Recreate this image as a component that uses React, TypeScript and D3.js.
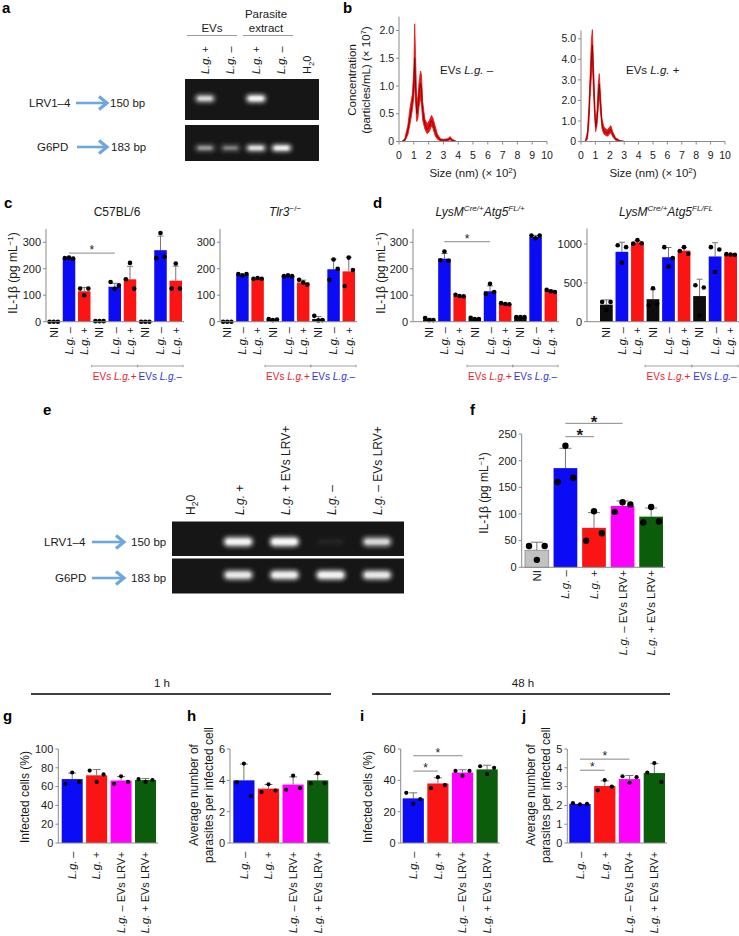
import React from "react";
import * as d3 from "d3";

const FONT = "'Liberation Sans', Arial, Helvetica, sans-serif";
const BLUE = "#0b0bf5";
const RED = "#fb1414";
const MAGENTA = "#ff00ff";
const GREEN = "#0b5c0b";
const GRAY = "#c2c2c2";
const BLACK = "#0d0d0d";
const AXIS = "#8a8a8a";
const TXT = "#1a1a1a";

// ---------------- Panel a (gel) ----------------
const A_LANES = ["L.g. +", "L.g. –", "L.g. +", "L.g. –", "H2O"];
const A_LRV_BANDS = [0.75, 0, 1, 0, 0];
const A_G6PD_BANDS = [0.45, 0.35, 0.85, 1, 0];

// ---------------- Panel b (NTA) ----------------
const B_X_TICKS = [0, 1, 2, 3, 4, 5, 6, 7, 8, 9, 10];
const B1_Y_TICKS = [0, 0.5, 1, 1.5, 2];
const B2_Y_TICKS = [0, 1, 2, 3, 4, 5];
const B1_SIZE = [0.2, 0.4, 0.6, 0.75, 0.9, 1.0, 1.06, 1.12, 1.2, 1.28, 1.35, 1.45, 1.52, 1.6, 1.75, 1.9, 2.05, 2.2, 2.3, 2.45, 2.6, 2.8, 3.0, 3.3, 3.45, 3.6, 3.9];
const B1_MEAN = [0, 0.03, 0.2, 0.45, 0.7, 1.0, 1.5, 1.0, 0.5, 0.6, 0.85, 1.05, 0.95, 0.55, 0.3, 0.22, 0.28, 0.38, 0.32, 0.18, 0.08, 0.03, 0.02, 0.03, 0.06, 0.02, 0];
const B1_UPPER = [0, 0.06, 0.3, 0.62, 0.85, 1.32, 2.12, 1.55, 0.68, 0.82, 1.05, 1.27, 1.2, 0.72, 0.4, 0.32, 0.38, 0.47, 0.42, 0.27, 0.13, 0.05, 0.04, 0.05, 0.09, 0.04, 0];
const B1_LOWER = [0, 0.01, 0.12, 0.32, 0.56, 0.8, 1.05, 0.7, 0.36, 0.42, 0.62, 0.78, 0.66, 0.38, 0.22, 0.14, 0.18, 0.28, 0.23, 0.1, 0.04, 0.01, 0, 0.01, 0.03, 0, 0];
const B2_SIZE = [0.3, 0.45, 0.55, 0.65, 0.72, 0.79, 0.86, 0.95, 1.02, 1.12, 1.2, 1.27, 1.35, 1.45, 1.57, 1.7, 1.85, 2.0, 2.08, 2.2, 2.4, 2.7, 3.05];
const B2_MEAN = [0, 0.3, 1.3, 3.0, 4.0, 4.7, 3.3, 1.6, 0.7, 1.2, 2.2, 2.8, 1.9, 0.9, 0.55, 0.45, 0.4, 0.55, 0.6, 0.35, 0.12, 0.03, 0];
const B2_UPPER = [0, 0.5, 1.75, 3.55, 4.95, 5.45, 3.95, 2.05, 0.92, 1.55, 2.85, 3.3, 2.35, 1.15, 0.75, 0.62, 0.57, 0.72, 0.77, 0.47, 0.19, 0.05, 0];
const B2_LOWER = [0, 0.12, 0.85, 2.4, 3.1, 3.8, 2.5, 1.15, 0.48, 0.85, 1.6, 2.25, 1.45, 0.66, 0.38, 0.3, 0.26, 0.38, 0.43, 0.23, 0.06, 0.01, 0];

// ---------------- Panels c, d ----------------
const CD_CATEGORIES = ["NI", "L.g. –", "L.g. +", "NI", "L.g. –", "L.g. +", "NI", "L.g. –", "L.g. +"];
const CD_COLORS = [BLACK, BLUE, RED, BLACK, BLUE, RED, BLACK, BLUE, RED];
const EV_GROUPS = ["EVs L.g.+", "EVs L.g.–"];
const CD_Y_TICKS = [0, 100, 200, 300];
const D2_Y_TICKS = [0, 500, 1000];

const C57_MEANS = [0, 240, 115, 2, 132, 160, 0, 270, 155];
const C57_DOTS = [[0, 0, 0], [240, 242, 238], [125, 100, 125], [2, 2, 2], [150, 124, 137], [160, 222, 125], [0, 0, 0], [240, 335, 245], [125, 220, 125]];
const TLR3_MEANS = [0, 178, 162, 8, 172, 148, 10, 198, 190];
const TLR3_DOTS = [[0, 0, 0], [180, 175, 180], [162, 165, 162], [10, 6, 8], [172, 175, 172], [158, 148, 140], [22, 5, 6], [158, 235, 200], [135, 242, 195]];
const ATG_FLP_MEANS = [8, 238, 97, 12, 115, 67, 18, 320, 115];
const ATG_FLP_DOTS = [[14, 6, 6], [232, 265, 230], [102, 97, 96], [15, 10, 10], [105, 143, 112], [70, 67, 66], [18, 18, 18], [325, 315, 325], [120, 115, 112]];
const ATG_FLFL_MEANS = [220, 900, 1020, 290, 830, 915, 330, 840, 865];
const ATG_FLFL_DOTS = [[255, 150, 255], [985, 760, 960], [1005, 1050, 1010], [210, 430, 230], [960, 710, 820], [910, 960, 875], [470, 80, 440], [960, 640, 930], [870, 865, 862]];

// ---------------- Panel e (gel) ----------------
const E_LANES = ["H2O", "L.g. +", "L.g. + EVs LRV+", "L.g. –", "L.g. – EVs LRV+"];
const E_LRV_BANDS = [0, 0.95, 1, 0.03, 0.72];
const E_G6PD_BANDS = [0, 0.85, 0.9, 0.95, 0.85];

// ---------------- Panel f ----------------
const F_CATEGORIES = ["NI", "L.g. –", "L.g. +", "L.g. – EVs LRV+", "L.g. + EVs LRV+"];
const F_COLORS = [GRAY, BLUE, RED, MAGENTA, GREEN];
const F_MEANS = [32, 186, 74, 115, 95];
const F_DOTS = [[40, 14, 40], [160, 228, 168], [50, 105, 64], [104, 122, 118], [84, 113, 86]];
const F_Y_TICKS = [0, 50, 100, 150, 200, 250];

// ---------------- Panels g-j ----------------
const GJ_CATEGORIES = ["L.g. –", "L.g. +", "L.g. – EVs LRV+", "L.g. + EVs LRV+"];
const GJ_COLORS = [BLUE, RED, MAGENTA, GREEN];
const G_MEANS = [68, 72, 66.5, 67];
const G_DOTS = [[63, 75, 65], [77, 65, 73], [63, 71, 65], [68, 65, 67]];
const G_Y_TICKS = [0, 20, 40, 60, 80, 100];
const H_MEANS = [4.0, 3.47, 3.73, 4.0];
const H_DOTS = [[3.87, 5.07, 3.0], [3.25, 3.75, 3.35], [3.4, 4.3, 3.5], [3.8, 4.45, 3.8]];
const H_Y_TICKS = [0, 2, 4, 6];
const I_MEANS = [28.5, 38, 45, 47];
const I_DOTS = [[32, 25, 28], [35, 42, 37], [46, 43, 46], [49, 44, 48]];
const I_Y_TICKS = [0, 20, 40, 60];
const J_MEANS = [2.08, 3.03, 3.4, 3.72];
const J_DOTS = [[2.12, 2.05, 2.08], [2.8, 3.35, 3.0], [3.55, 3.2, 3.5], [3.75, 4.25, 3.25]];
const J_Y_TICKS = [0, 1, 2, 3, 4, 5];
const TIME_LABELS = ["1 h", "48 h"];

// ------------------------------------------------
function Rich({ s }: { s: string }) {
  if (s === "H2O") {
    return (
      <>
        <tspan>H</tspan>
        <tspan dy={3} fontSize="0.72em">2</tspan>
        <tspan dy={-3}>0</tspan>
      </>
    );
  }
  const parts = s.split(/(L\.g\.)/).filter((p) => p !== "");
  return (
    <>
      {parts.map((p, i) =>
        p === "L.g." ? (
          <tspan key={i} fontStyle="italic">{p}</tspan>
        ) : (
          <tspan key={i}>{p}</tspan>
        )
      )}
    </>
  );
}

function Arrow({ x1, x2, y }: { x1: number; x2: number; y: number }) {
  return (
    <g stroke="#6ea7de" fill="none">
      <line x1={x1} x2={x2 - 3} y1={y} y2={y} strokeWidth={2.6} />
      <polyline points={`${x2 - 9},${y - 6.5} ${x2 - 1},${y} ${x2 - 9},${y + 6.5}`} strokeWidth={3.2} />
    </g>
  );
}

function Gel({ x, y, w, h, lanes, vals, bandW, bandH, bandDy }: any) {
  return (
    <g>
      <rect x={x} y={y} width={w} height={h} fill="#161616" />
      {vals.map((v: number, i: number) =>
        v > 0.01 ? (
          <g key={i}>
            <rect x={lanes[i] - bandW / 2} y={y + h / 2 + bandDy - bandH / 2} width={bandW} height={bandH} rx={bandH / 2} fill="#fff" opacity={v * 0.8} filter="url(#glow)" />
            <rect x={lanes[i] - bandW / 2 + 3} y={y + h / 2 + bandDy - bandH / 4} width={bandW - 6} height={bandH / 2} rx={bandH / 4} fill="#fff" opacity={v * 0.85} filter="url(#glow1)" />
          </g>
        ) : null
      )}
    </g>
  );
}

type Sig = { a: number; b: number; level: number };
function BarPanel(p: any) {
  const y = d3.scaleLinear().domain([0, p.yMax]).range([p.yBase, p.yTopPx]);
  const x = d3.scaleBand<number>().domain(d3.range(p.means.length)).range(p.band).paddingInner(p.pad).paddingOuter(0);
  const bw = x.bandwidth();
  const cx = (i: number) => (x(i) as number) + bw / 2;
  const jit = [-0.33, 0, 0.33];
  const fmt = p.fmt || ((d: number) => String(d));
  return (
    <g>
      {p.means.map((m: number, i: number) => {
        const sd = d3.deviation(p.dots[i]) ?? 0;
        const top = y(m + sd);
        const hasErr = y(m) - top > 1;
        return (
          <g key={i}>
            {hasErr && (
              <g stroke="#666" strokeWidth={0.9}>
                <line x1={cx(i)} x2={cx(i)} y1={y(m)} y2={top} />
                <line x1={cx(i) - p.capW / 2} x2={cx(i) + p.capW / 2} y1={top} y2={top} />
              </g>
            )}
            <rect x={x(i)} y={y(m)} width={bw} height={Math.max(0, p.yBase - y(m))} fill={p.colors[i]} stroke={p.colors[i] === GRAY ? "#8a8a8a" : "none"} strokeWidth={0.8} />
            {p.dots[i].map((d: number, k: number) => (
              <circle key={k} cx={cx(i) + jit[k] * bw} cy={y(d)} r={p.dotR} fill="#000" />
            ))}
          </g>
        );
      })}
      <line x1={p.x0} x2={p.x0} y1={p.yBase} y2={p.yTopPx} stroke={AXIS} strokeWidth={1} />
      <line x1={p.x0} x2={p.band[1] + 2} y1={p.yBase} y2={p.yBase} stroke={AXIS} strokeWidth={1} />
      {p.ticks.map((t: number) => (
        <g key={t}>
          <line x1={p.x0 - 3} x2={p.x0} y1={y(t)} y2={y(t)} stroke={AXIS} />
          <text x={p.x0 - 5} y={y(t)} dy="0.35em" textAnchor="end" fontSize={p.tickSize} fill={TXT}>{fmt(t)}</text>
        </g>
      ))}
      {p.labels.map((l: string, i: number) => (
        <text key={i} transform={`translate(${cx(i)},${p.labelTop}) rotate(-90)`} dy="0.35em" textAnchor="end" fontSize={p.labelSize} fill={TXT}>
          <Rich s={l} />
        </text>
      ))}
      {(p.sigs || []).map((s: Sig, k: number) => (
        <g key={k}>
          <line x1={cx(s.a)} x2={cx(s.b)} y1={y(s.level)} y2={y(s.level)} stroke="#888" strokeWidth={1} />
          <text x={(cx(s.a) + cx(s.b)) / 2} y={y(s.level) + p.starDy} textAnchor="middle" fontSize={p.starSize} fontWeight={p.starBold ? "bold" : "normal"} fill={TXT}>*</text>
        </g>
      ))}
      {p.bracketY && (() => {
        const l0 = (x(3) as number) - 1.5;
        const mid = ((x(5) as number) + bw + (x(6) as number)) / 2;
        const r0 = (x(8) as number) + bw + 1;
        const by = p.bracketY;
        const segs: [number, number][] = [[l0, mid], [mid, r0]];
        return (
          <g>
            {segs.map((sg, k) => (
              <g key={k}>
                <line x1={sg[0]} x2={sg[1]} y1={by} y2={by} stroke="#999" strokeWidth={0.9} />
                <line x1={sg[0]} x2={sg[0]} y1={by - 1.2} y2={by + 1.2} stroke="#999" />
                <line x1={sg[1]} x2={sg[1]} y1={by - 1.2} y2={by + 1.2} stroke="#999" />
                <text x={(sg[0] + sg[1]) / 2} y={by + 13.5} textAnchor="middle" fontSize={10} fill={k === 0 ? "#e8232b" : "#3434d8"}>
                  <Rich s={EV_GROUPS[k]} />
                </text>
              </g>
            ))}
          </g>
        );
      })()}
    </g>
  );
}

function NtaPanel(p: any) {
  const x = d3.scaleLinear().domain([0, 10]).range([p.x0, p.x1]);
  const y = d3.scaleLinear().domain([0, p.yMax]).range([p.yBase, p.yTopPx]);
  const idx = d3.range(p.size.length);
  const area = d3.area<number>().x((i) => x(p.size[i])).y0((i) => y(p.lower[i])).y1((i) => y(p.upper[i]));
  const line = d3.line<number>().x((i) => x(p.size[i])).y((i) => y(p.mean[i]));
  return (
    <g>
      <path d={area(idx) || ""} fill="#e61414" stroke="#e61414" strokeWidth={0.8} />
      <path d={line(idx) || ""} fill="none" stroke="#7a0000" strokeWidth={0.8} />
      <line x1={p.x0} x2={p.x0} y1={p.yBase} y2={p.yTopPx} stroke={AXIS} />
      <line x1={p.x0} x2={p.x1} y1={p.yBase} y2={p.yBase} stroke={AXIS} />
      {p.yTicks.map((t: number) => (
        <g key={t}>
          <line x1={p.x0 - 3} x2={p.x0} y1={y(t)} y2={y(t)} stroke={AXIS} />
          <text x={p.x0 - 5} y={y(t)} dy="0.35em" textAnchor="end" fontSize={10.5} fill={TXT}>{t === 0 ? "0" : d3.format(".1f")(t)}</text>
        </g>
      ))}
      {B_X_TICKS.map((t) => (
        <g key={t}>
          <line x1={x(t)} x2={x(t)} y1={p.yBase} y2={p.yBase + 3} stroke={AXIS} />
          <text x={x(t)} y={p.yBase + 17.5} textAnchor="middle" fontSize={10.5} fill={TXT}>{t}</text>
        </g>
      ))}
      <text x={(p.x0 + p.x1) / 2} y={p.yBase + 35} textAnchor="middle" fontSize={11.5} fill={TXT}>
        Size (nm) (× 10<tspan dy={-4} fontSize={8}>2</tspan><tspan dy={4}>)</tspan>
      </text>
      <text x={p.labelX} y={74} fontSize={11.5} fill={TXT}>
        <Rich s={p.label} />
      </text>
    </g>
  );
}

function IlLabel({ x, y }: { x: number; y: number }) {
  return (
    <text transform={`translate(${x},${y}) rotate(-90)`} textAnchor="middle" dy="0.35em" fontSize={12} fill={TXT}>
      IL-1β (pg mL<tspan dy={-4} fontSize={8}>−1</tspan><tspan dy={4}>)</tspan>
    </text>
  );
}

function VLabel({ x, y, text }: { x: number; y: number; text: string }) {
  return (
    <text transform={`translate(${x},${y}) rotate(-90)`} textAnchor="middle" dy="0.35em" fontSize={12} fill={TXT}>{text}</text>
  );
}

function PanelLetter({ x, y, t }: { x: number; y: number; t: string }) {
  return <text x={x} y={y} fontSize={15} fontWeight="bold" fill="#000">{t}</text>;
}

export default function App() {
  const aLane = d3.scalePoint<number>().domain(d3.range(A_LANES.length)).range([205, 307]);
  const eLane = d3.scalePoint<number>().domain(d3.range(E_LANES.length)).range([192, 377]);
  const aLanes = A_LANES.map((_, i) => aLane(i) as number);
  const eLanes = E_LANES.map((_, i) => eLane(i) as number);
  const eLaneLabelX = [191, 240, 286, 332, 378];

  const cd = { yBase: 321.7, labelTop: 327, labelSize: 11, tickSize: 11, dotR: 2.3, capW: 6, starSize: 12, starDy: 1, bracketY: 366, labels: CD_CATEGORIES, colors: CD_COLORS, pad: 0.18 };
  const gj = { yBase: 843, labelTop: 851.5, labelSize: 11, tickSize: 11, dotR: 2.1, capW: 8, starSize: 12, starDy: 1, labels: GJ_CATEGORIES, colors: GJ_COLORS, pad: 0.14 };

  return (
    <svg width={739} height={936} style={{ position: "absolute", left: 0, top: 0 }} fontFamily={FONT}>
      <defs>
        <filter id="glow" x="-50%" y="-150%" width="200%" height="400%">
          <feGaussianBlur stdDeviation="2.2" />
        </filter>
        <filter id="glow1" x="-50%" y="-150%" width="200%" height="400%">
          <feGaussianBlur stdDeviation="1" />
        </filter>
      </defs>
      <rect width={739} height={936} fill="#fff" />

      {/* ---------- a ---------- */}
      <PanelLetter x={2} y={13} t="a" />
      <text x={212} y={32} textAnchor="middle" fontSize={11.5} fill={TXT}>EVs</text>
      <text x={266} y={18} textAnchor="middle" fontSize={11.5} fill={TXT}>Parasite</text>
      <text x={266} y={32} textAnchor="middle" fontSize={11.5} fill={TXT}>extract</text>
      <line x1={187} x2={237} y1={35.5} y2={35.5} stroke="#999" />
      <line x1={243} x2={293} y1={35.5} y2={35.5} stroke="#999" />
      {A_LANES.map((l, i) => (
        <text key={i} transform={`translate(${aLanes[i]},74) rotate(-90)`} dy="0.35em" fontSize={11} fill={TXT}>
          <Rich s={l} />
        </text>
      ))}
      <Gel x={185} y={79} w={134} h={41} lanes={aLanes} vals={A_LRV_BANDS} bandW={20} bandH={8} bandDy={-1} />
      <Gel x={185} y={125} w={134} h={36} lanes={aLanes} vals={A_G6PD_BANDS} bandW={20} bandH={7} bandDy={5} />
      <text x={29} y={107} fontSize={11.5} fill={TXT}>LRV1–4</text>
      <Arrow x1={76} x2={108} y={103} />
      <text x={110} y={107} fontSize={11.5} fill={TXT}>150 bp</text>
      <text x={37} y={151} fontSize={11.5} fill={TXT}>G6PD</text>
      <Arrow x1={77} x2={108} y={147} />
      <text x={111} y={151} fontSize={11.5} fill={TXT}>183 bp</text>

      {/* ---------- b ---------- */}
      <PanelLetter x={343} y={13} t="b" />
      <text transform="translate(352,80) rotate(-90)" textAnchor="middle" dy="0.35em" fontSize={11.5} fill={TXT}>Concentration</text>
      <text transform="translate(366,80) rotate(-90)" textAnchor="middle" dy="0.35em" fontSize={11.5} fill={TXT}>
        (particles/mL) (× 10<tspan dy={-4} fontSize={8}>7</tspan><tspan dy={4}>)</tspan>
      </text>
      <NtaPanel x0={399} x1={547} yBase={141.5} yMax={2.25} yTopPx={16.6} yTicks={B1_Y_TICKS} size={B1_SIZE} mean={B1_MEAN} upper={B1_UPPER} lower={B1_LOWER} label="EVs L.g. –" labelX={440} />
      <NtaPanel x0={581} x1={725} yBase={141.5} yMax={5.4} yTopPx={30.6} yTicks={B2_Y_TICKS} size={B2_SIZE} mean={B2_MEAN} upper={B2_UPPER} lower={B2_LOWER} label="EVs L.g. +" labelX={626} />

      {/* ---------- c ---------- */}
      <PanelLetter x={4} y={208} t="c" />
      <text x={117} y={216} textAnchor="middle" fontSize={12} fill={TXT}>C57BL/6</text>
      <text x={285} y={216} textAnchor="middle" fontSize={12} fill={TXT}>
        <tspan fontStyle="italic">Tlr3</tspan><tspan dy={-5} fontSize={8}>−/−</tspan>
      </text>
      <IlLabel x={13} y={273} />
      <BarPanel {...cd} x0={46} band={[47.5, 182]} yMax={350} yTopPx={229} ticks={CD_Y_TICKS} means={C57_MEANS} dots={C57_DOTS} sigs={[{ a: 1, b: 4, level: 259 }]} />
      <BarPanel {...cd} x0={220} band={[221, 355]} yMax={350} yTopPx={229} ticks={CD_Y_TICKS} means={TLR3_MEANS} dots={TLR3_DOTS} />

      {/* ---------- d ---------- */}
      <PanelLetter x={373} y={208} t="d" />
      <text x={480} y={216} textAnchor="middle" fontSize={12} fill={TXT} fontStyle="italic">
        LysM<tspan dy={-5} fontSize={8}>Cre/+</tspan><tspan dy={5}>Atg5</tspan><tspan dy={-5} fontSize={8}>FL/+</tspan>
      </text>
      <text x={666} y={216} textAnchor="middle" fontSize={12} fill={TXT} fontStyle="italic">
        LysM<tspan dy={-5} fontSize={8}>Cre/+</tspan><tspan dy={5}>Atg5</tspan><tspan dy={-5} fontSize={8}>FL/FL</tspan>
      </text>
      <IlLabel x={381} y={273} />
      <BarPanel {...cd} x0={413} band={[423, 557]} yMax={350} yTopPx={229} ticks={CD_Y_TICKS} means={ATG_FLP_MEANS} dots={ATG_FLP_DOTS} sigs={[{ a: 1, b: 4, level: 302 }]} />
      <BarPanel {...cd} x0={587} band={[600, 737]} yMax={1200} yTopPx={228.5} ticks={D2_Y_TICKS} means={ATG_FLFL_MEANS} dots={ATG_FLFL_DOTS} />

      {/* ---------- e ---------- */}
      <PanelLetter x={43} y={415} t="e" />
      {E_LANES.map((l, i) => (
        <text key={i} transform={`translate(${eLaneLabelX[i]},515) rotate(-90)`} dy="0.35em" fontSize={12} fill={TXT}>
          <Rich s={l} />
        </text>
      ))}
      <Gel x={172} y={521.5} w={232} h={34.5} lanes={eLanes} vals={E_LRV_BANDS} bandW={30} bandH={10} bandDy={3} />
      <Gel x={172} y={558.5} w={232} h={35} lanes={eLanes} vals={E_G6PD_BANDS} bandW={30} bandH={10} bandDy={-1} />
      <text x={44} y={546} fontSize={11.5} fill={TXT}>LRV1–4</text>
      <Arrow x1={92} x2={125} y={542} />
      <text x={131} y={546} fontSize={11.5} fill={TXT}>150 bp</text>
      <text x={55} y={582} fontSize={11.5} fill={TXT}>G6PD</text>
      <Arrow x1={92} x2={125} y={578} />
      <text x={131} y={582} fontSize={11.5} fill={TXT}>183 bp</text>

      {/* ---------- f ---------- */}
      <PanelLetter x={470} y={415} t="f" />
      <IlLabel x={484} y={493} />
      <BarPanel x0={521.7} band={[525, 663]} pad={0.17} yBase={567.3} yMax={250} yTopPx={434} ticks={F_Y_TICKS} means={F_MEANS} dots={F_DOTS} colors={F_COLORS} labels={F_CATEGORIES} labelTop={570} labelSize={11.5} tickSize={11} dotR={3.2} capW={12} starSize={17} starBold starDy={4.5} sigs={[{ a: 1, b: 2, level: 245 }, { a: 1, b: 3, level: 270 }]} />

      {/* ---------- time bars ---------- */}
      <text x={162} y={687} textAnchor="middle" fontSize={11.5} fill={TXT}>{TIME_LABELS[0]}</text>
      <line x1={31} x2={331} y1={694} y2={694} stroke="#000" strokeWidth={1.5} />
      <text x={523} y={687} textAnchor="middle" fontSize={11.5} fill={TXT}>{TIME_LABELS[1]}</text>
      <line x1={372} x2={670} y1={694} y2={694} stroke="#000" strokeWidth={1.5} />

      {/* ---------- g ---------- */}
      <PanelLetter x={3} y={721} t="g" />
      <VLabel x={25} y={797} text="Infected cells (%)" />
      <BarPanel {...gj} x0={58.3} band={[61.7, 156]} yMax={100} yTopPx={749} ticks={G_Y_TICKS} means={G_MEANS} dots={G_DOTS} />

      {/* ---------- h ---------- */}
      <PanelLetter x={187} y={721} t="h" />
      <VLabel x={194} y={795} text="Average number of" />
      <VLabel x={209} y={795} text="parasites per infected cell" />
      <BarPanel {...gj} x0={230} band={[233.3, 328.3]} yMax={6} yTopPx={749} ticks={H_Y_TICKS} means={H_MEANS} dots={H_DOTS} />

      {/* ---------- i ---------- */}
      <PanelLetter x={360} y={721} t="i" />
      <VLabel x={368} y={797} text="Infected cells (%)" />
      <BarPanel {...gj} x0={400.7} band={[402.7, 497.7]} yMax={60} yTopPx={749} ticks={I_Y_TICKS} means={I_MEANS} dots={I_DOTS} sigs={[{ a: 0, b: 1, level: 45.9 }, { a: 0, b: 2, level: 55.7 }]} />

      {/* ---------- j ---------- */}
      <PanelLetter x={522} y={721} t="j" />
      <VLabel x={531} y={795} text="Average number of" />
      <VLabel x={546} y={795} text="parasites per infected cell" />
      <BarPanel {...gj} x0={567.3} band={[569.3, 665]} yMax={5} yTopPx={749} ticks={J_Y_TICKS} means={J_MEANS} dots={J_DOTS} sigs={[{ a: 0, b: 1, level: 3.87 }, { a: 0, b: 2, level: 4.46 }]} />
    </svg>
  );
}
